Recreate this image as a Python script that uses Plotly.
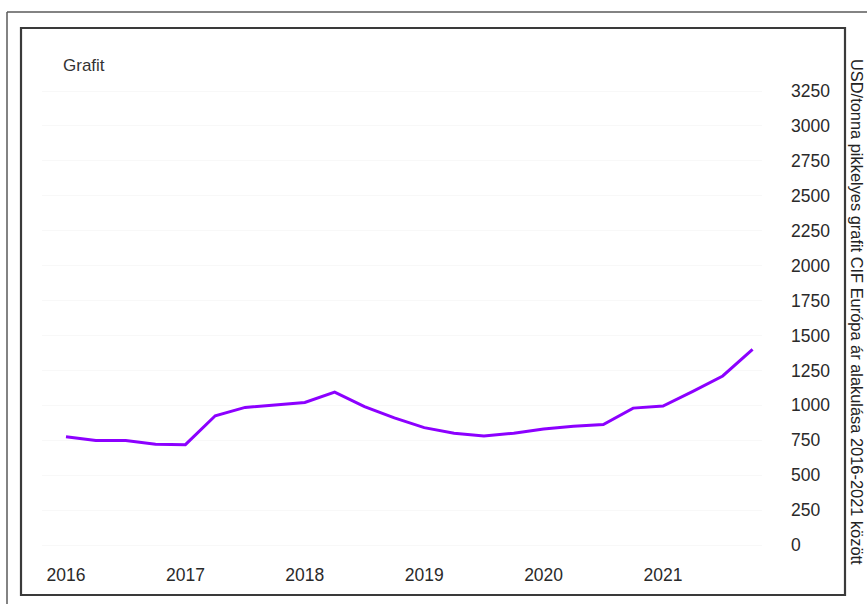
import plotly.graph_objects as go

# Quarterly price of flake graphite, CIF Europe (USD/tonne)
quarters = [2016.00, 2016.25, 2016.50, 2016.75,
            2017.00, 2017.25, 2017.50, 2017.75,
            2018.00, 2018.25, 2018.50, 2018.75,
            2019.00, 2019.25, 2019.50, 2019.75,
            2020.00, 2020.25, 2020.50, 2020.75,
            2021.00, 2021.25, 2021.50, 2021.75]
prices = [775, 748, 748, 722,
          718, 925, 985, 1000,
          1020, 1095, 990, 910,
          840, 800, 780, 800,
          830, 850, 862, 980,
          995, 1100, 1210, 1400]

year_ticks = [2016, 2017, 2018, 2019, 2020, 2021]
year_labels = ["2016", "2017", "2018", "2019", "2020", "2021"]
price_ticks = list(range(0, 3251, 250))

title_text = "Grafit"
axis_title = "USD/tonna pikkelyes grafit CIF Európa ár alakulása 2016-2021 között"

W, H = 867, 604
L, R, T, B = 42, 105, 75, 44  # margins in px

def px_x(x):
    return (x - L) / (W - L - R)

def px_y(y):
    return (H - B - y) / (H - T - B)

fig = go.Figure()
fig.add_trace(go.Scatter(
    x=quarters, y=prices, mode="lines",
    line=dict(color="#8c00ff", width=3),
    hoverinfo="x+y", showlegend=False,
))

font = "Liberation Sans, Arial, sans-serif"

fig.update_layout(
    width=W, height=H,
    margin=dict(l=L, r=R, t=T, b=B),
    paper_bgcolor="white", plot_bgcolor="white",
    font=dict(family=font, color="#333333"),
    xaxis=dict(
        range=[2015.799, 2021.829],
        tickmode="array", tickvals=year_ticks, ticktext=year_labels,
        showgrid=False, zeroline=False, showline=False,
        tickfont=dict(size=17.5, color="#2a2a2a"),
        ticks="", ticklabelstandoff=2,
    ),
    yaxis=dict(
        side="right",
        range=[-107.4, 3364.6],
        tickmode="array", tickvals=price_ticks,
        showgrid=True, gridcolor="#f8f8f8", gridwidth=1,
        zeroline=False, showline=False,
        tickfont=dict(size=17.5, color="#2a2a2a"),
        ticks="", ticklabelstandoff=28,
    ),
    annotations=[
        dict(text=title_text, xref="paper", yref="paper",
             x=px_x(61), y=px_y(65), xanchor="left", yanchor="middle",
             showarrow=False, font=dict(size=17, color="#333333", family=font)),
        dict(text=axis_title, xref="paper", yref="paper",
             x=px_x(857), y=px_y(312), xanchor="center", yanchor="middle",
             textangle=90, showarrow=False,
             font=dict(size=16.4, color="#222222", family=font)),
    ],
    shapes=[
        # outer frame: left and top edges
        dict(type="line", xref="paper", yref="paper",
             x0=px_x(7), x1=px_x(7), y0=px_y(604), y1=px_y(12),
             line=dict(color="#5a5a5a", width=1.5), layer="below"),
        dict(type="line", xref="paper", yref="paper",
             x0=px_x(7), x1=px_x(867), y0=px_y(12), y1=px_y(12),
             line=dict(color="#5a5a5a", width=1.5), layer="below"),
        # inner frame
        dict(type="rect", xref="paper", yref="paper",
             x0=px_x(21), x1=px_x(845), y0=px_y(595), y1=px_y(28),
             line=dict(color="#3a3a3a", width=2.2), layer="below"),
    ],
)

fig.write_html("out.html")
